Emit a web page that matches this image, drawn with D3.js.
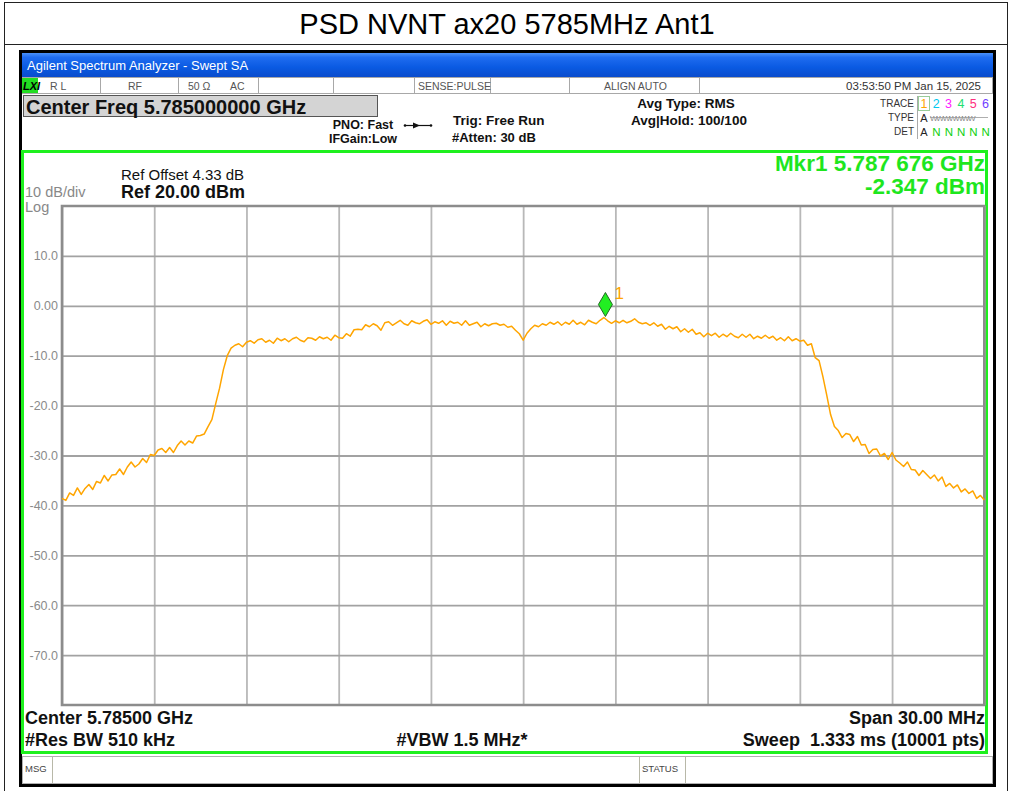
<!DOCTYPE html>
<html>
<head>
<meta charset="utf-8">
<script src="https://cdn.jsdelivr.net/npm/d3@7"></script>
<style>
  body { margin: 0; background: #fff; }
  svg { display: block; }
  text { font-family: "Liberation Sans", Arial, sans-serif; }
</style>
</head>
<body>
<svg id="chart" width="1010" height="791"></svg>
<script>
// ---- sweep settings and measured trace (dBm), evenly spaced sweep points ----
const sweepStartGHz = 5.770;
const sweepStopGHz = 5.800;
const traceLevels = [
  -38.6,-39.0,-37.5,-38.0,-36.5,-37.8,-36.6,-35.8,-36.8,-35.2,
  -35.5,-34.0,-35.1,-33.9,-33.8,-32.7,-33.8,-32.3,-31.3,-32.3,
  -31.7,-30.6,-31.4,-29.8,-30.0,-28.9,-28.6,-29.4,-28.4,-29.4,
  -28.0,-27.1,-27.9,-27.1,-27.5,-26.1,-26.0,-25.7,-24.2,-22.8,
  -19.6,-16.5,-12.8,-10.0,-8.5,-7.9,-7.6,-8.2,-7.3,-7.0,
  -7.5,-6.8,-6.6,-7.3,-6.9,-7.5,-6.5,-7.0,-6.6,-7.2,
  -6.6,-6.3,-6.9,-7.2,-6.4,-6.5,-6.9,-6.2,-6.6,-6.3,
  -6.9,-5.9,-6.4,-6.5,-5.6,-6.1,-4.8,-4.7,-4.8,-3.8,
  -4.2,-3.6,-4.0,-4.9,-3.4,-3.2,-3.9,-3.4,-2.9,-3.6,
  -3.9,-3.0,-3.4,-3.6,-3.1,-2.8,-3.7,-3.2,-3.5,-3.0,
  -3.9,-3.1,-3.5,-3.3,-3.9,-3.0,-3.9,-3.6,-3.3,-4.2,
  -3.6,-4.0,-3.6,-3.5,-3.9,-3.7,-4.3,-4.1,-4.9,-5.6,
  -6.9,-5.5,-4.6,-3.9,-4.2,-3.6,-3.9,-3.3,-3.7,-3.2,
  -3.9,-3.3,-3.7,-2.9,-3.7,-3.3,-3.8,-2.9,-3.3,-3.6,
  -2.9,-2.35,-3.0,-3.5,-3.0,-3.4,-2.9,-3.4,-3.1,-2.6,
  -3.3,-3.6,-3.4,-3.9,-3.4,-4.1,-3.7,-4.7,-4.1,-4.6,
  -4.2,-5.2,-4.6,-5.3,-4.7,-5.7,-5.4,-6.2,-5.5,-6.0,
  -5.5,-6.3,-5.7,-6.2,-5.5,-6.1,-6.4,-5.7,-6.3,-5.7,
  -6.6,-6.1,-6.5,-5.9,-6.5,-6.1,-6.9,-6.4,-7.0,-6.2,
  -7.0,-6.6,-7.1,-6.9,-7.9,-7.6,-10.4,-11.0,-14.2,-17.9,
  -21.8,-24.2,-25.0,-26.4,-25.6,-25.8,-27.2,-26.2,-27.9,-27.8,
  -29.6,-28.8,-28.7,-30.1,-29.6,-30.8,-29.4,-30.9,-31.5,-32.2,
  -31.3,-32.8,-32.9,-34.0,-33.0,-33.8,-34.6,-33.9,-35.1,-34.3,
  -36.2,-35.6,-36.5,-35.9,-37.3,-36.7,-37.6,-37.1,-38.6,-38.0,
  -38.9
];

// ---- axis settings ----
const refLevel = 20;
const bottomLevel = -80;
const yTickValues = [10, 0, -10, -20, -30, -40, -50, -60, -70];
const yTickLabels = ["10.0", "0.00", "-10.0", "-20.0", "-30.0", "-40.0", "-50.0", "-60.0", "-70.0"];
const xDivisions = [5.770, 5.773, 5.776, 5.779, 5.782, 5.785, 5.788, 5.791, 5.794, 5.797, 5.800];

// ---- marker ----
const markerFreqGHz = 5.787676;
const markerLevel = -2.347;

// ---- annotation text ----
const pageTitle = "PSD NVNT ax20 5785MHz Ant1";
const windowTitle = "Agilent Spectrum Analyzer - Swept SA";
const statusCells = [
  { text: "R L", x: 50 }, { text: "RF", x: 128 }, { text: "50 Ω", x: 188 }, { text: "AC", x: 230 },
  { text: "SENSE:PULSE", x: 418 }, { text: "ALIGN AUTO", x: 604 }
];
const statusDividers = [100, 178, 258, 333, 414, 490, 569, 699];
const timeStamp = "03:53:50 PM Jan 15, 2025";
const traceNumbers = ["1", "2", "3", "4", "5", "6"];
const traceColors = ["#ffa500", "#00c8f0", "#ff20ff", "#20e070", "#ff3080", "#7040ff"];

const svg = d3.select("#chart");

// ---- page frame and title ----
svg.append("rect").attr("x", 0).attr("y", 0).attr("width", 1010).attr("height", 791).attr("fill", "#fff");
svg.append("line").attr("x1", 4).attr("x2", 1007).attr("y1", 2.5).attr("y2", 2.5).attr("stroke", "#222").attr("stroke-width", 1);
svg.append("line").attr("x1", 4).attr("x2", 1007).attr("y1", 44.5).attr("y2", 44.5).attr("stroke", "#222").attr("stroke-width", 1);
svg.append("line").attr("x1", 4.5).attr("x2", 4.5).attr("y1", 2).attr("y2", 791).attr("stroke", "#222").attr("stroke-width", 1);
svg.append("line").attr("x1", 1007.5).attr("x2", 1007.5).attr("y1", 2).attr("y2", 791).attr("stroke", "#222").attr("stroke-width", 1);
svg.append("text").attr("x", 507).attr("y", 34).attr("text-anchor", "middle")
  .attr("font-size", 29).attr("fill", "#000").text(pageTitle);

// ---- analyzer window ----
svg.append("rect").attr("x", 19).attr("y", 50).attr("width", 977).attr("height", 737).attr("fill", "#000");
svg.append("rect").attr("x", 22).attr("y", 53).attr("width", 971).attr("height", 731).attr("fill", "#fff");

const defs = svg.append("defs");
const grad = defs.append("linearGradient").attr("id", "titlebar").attr("x1", 0).attr("x2", 0).attr("y1", 0).attr("y2", 1);
grad.append("stop").attr("offset", "0").attr("stop-color", "#4a90f8");
grad.append("stop").attr("offset", "0.18").attr("stop-color", "#1f6cf0");
grad.append("stop").attr("offset", "0.6").attr("stop-color", "#0a5ae2");
grad.append("stop").attr("offset", "1").attr("stop-color", "#0a4ccc");
svg.append("rect").attr("x", 22).attr("y", 53).attr("width", 971).attr("height", 24).attr("fill", "url(#titlebar)");
svg.append("text").attr("x", 27).attr("y", 70).attr("font-size", 13).attr("fill", "#fff").text(windowTitle);

// status row
svg.append("rect").attr("x", 22.5).attr("y", 77.5).attr("width", 970).attr("height", 16)
  .attr("fill", "#fff").attr("stroke", "#a8a8a8").attr("stroke-width", 1);
svg.append("rect").attr("x", 22).attr("y", 78).attr("width", 16).attr("height", 15).attr("fill", "#22dd22");
svg.append("text").attr("x", 23).attr("y", 90).attr("font-size", 11).attr("font-weight", "bold")
  .attr("font-style", "italic").attr("fill", "#000").text("LXI");
statusDividers.forEach(x => {
  svg.append("line").attr("x1", x + 0.5).attr("x2", x + 0.5).attr("y1", 78).attr("y2", 93).attr("stroke", "#a8a8a8");
});
statusCells.forEach(c => {
  svg.append("text").attr("x", c.x).attr("y", 90).attr("font-size", 10.5).attr("fill", "#555").text(c.text);
});
svg.append("text").attr("x", 981).attr("y", 90).attr("text-anchor", "end").attr("font-size", 11.5)
  .attr("fill", "#333").text(timeStamp);

// center frequency box
svg.append("rect").attr("x", 23.5).attr("y", 95.5).attr("width", 354).attr("height", 21)
  .attr("fill", "#d4d4d4").attr("stroke", "#555").attr("stroke-width", 1);
svg.append("text").attr("x", 26).attr("y", 113.5).attr("font-size", 20).attr("font-weight", "bold")
  .attr("fill", "#111").text("Center Freq 5.785000000 GHz");

// settings text
const settings = [
  { t: "PNO: Fast", x: 363, y: 129, a: "middle", s: 12.5 },
  { t: "IFGain:Low", x: 363, y: 143, a: "middle", s: 12.5 },
  { t: "Trig: Free Run", x: 453, y: 125, a: "start", s: 13.5 },
  { t: "#Atten: 30 dB", x: 452, y: 142, a: "start", s: 13 },
  { t: "Avg Type: RMS", x: 686, y: 108, a: "middle", s: 13.5 },
  { t: "Avg|Hold: 100/100", x: 689, y: 125, a: "middle", s: 13.5 }
];
settings.forEach(s => {
  svg.append("text").attr("x", s.x).attr("y", s.y).attr("text-anchor", s.a)
    .attr("font-size", s.s).attr("font-weight", "bold").attr("fill", "#111").text(s.t);
});
// trigger arrow symbol
svg.append("line").attr("x1", 405).attr("x2", 431).attr("y1", 125.5).attr("y2", 125.5).attr("stroke", "#111").attr("stroke-width", 1.2);
svg.append("path").attr("d", "M413,122.5 L420,125.5 L413,128.5 Z").attr("fill", "#111");
svg.append("circle").attr("cx", 405).attr("cy", 125.5).attr("r", 1.3).attr("fill", "#111");
svg.append("circle").attr("cx", 431).attr("cy", 125.5).attr("r", 1.3).attr("fill", "#111");

// trace table
[["TRACE", 107], ["TYPE", 121], ["DET", 135]].forEach(([t, y]) => {
  svg.append("text").attr("x", 914).attr("y", y).attr("text-anchor", "end").attr("font-size", 10)
    .attr("fill", "#333").text(t);
});
svg.append("line").attr("x1", 917.5).attr("x2", 917.5).attr("y1", 96).attr("y2", 139).attr("stroke", "#aaa");
svg.append("rect").attr("x", 918.5).attr("y", 96.5).attr("width", 11).attr("height", 14)
  .attr("fill", "none").attr("stroke", "#9c9").attr("stroke-width", 1);
traceNumbers.forEach((n, i) => {
  svg.append("text").attr("x", 924 + i * 12.3).attr("y", 108).attr("text-anchor", "middle")
    .attr("font-size", 12.5).attr("fill", traceColors[i]).text(n);
});
svg.append("text").attr("x", 924).attr("y", 122).attr("text-anchor", "middle").attr("font-size", 11).attr("fill", "#222").text("A");
svg.append("text").attr("x", 930).attr("y", 121).attr("font-size", 8).attr("letter-spacing", -1.2)
  .attr("fill", "#888").text("WWWWWWW");
svg.append("line").attr("x1", 930).attr("x2", 988).attr("y1", 117.5).attr("y2", 117.5).attr("stroke", "#999").attr("stroke-width", 0.8);
svg.append("text").attr("x", 924).attr("y", 136).attr("text-anchor", "middle").attr("font-size", 11).attr("fill", "#222").text("A");
d3.range(5).forEach(i => {
  svg.append("text").attr("x", 936.5 + i * 12.3).attr("y", 136).attr("text-anchor", "middle")
    .attr("font-size", 11.5).attr("fill", "#10d010").text("N");
});

// ---- green measurement panel ----
svg.append("rect").attr("x", 22.5).attr("y", 151.5).attr("width", 964).attr("height", 601)
  .attr("fill", "#fff").attr("stroke", "#1ef01e").attr("stroke-width", 3);

// ---- scales ----
const plotLeft = 62, plotRight = 984.3, plotTop = 206, plotBottom = 705;
const x = d3.scaleLinear().domain([sweepStartGHz, sweepStopGHz]).range([plotLeft, plotRight]);
const y = d3.scaleLinear().domain([bottomLevel, refLevel]).range([plotBottom, plotTop]);

// vertical divisions
svg.append("g").attr("transform", `translate(0,${plotBottom})`)
  .call(d3.axisBottom(x).tickValues(xDivisions).tickSize(-(plotBottom - plotTop)).tickFormat(""))
  .call(g => g.select(".domain").remove())
  .call(g => g.selectAll("line").attr("stroke", "#b8b8b8").attr("stroke-width", 1.8));

// horizontal divisions + level labels
svg.append("g").attr("transform", `translate(${plotLeft},0)`)
  .call(d3.axisLeft(y).tickValues(yTickValues).tickSize(-(plotRight - plotLeft)).tickPadding(4)
    .tickFormat((d, i) => yTickLabels[i]))
  .call(g => g.select(".domain").remove())
  .call(g => g.selectAll("line").attr("stroke", "#a2a2a2").attr("stroke-width", 1.8))
  .call(g => g.selectAll("text").attr("fill", "#8a8a8a").attr("font-size", 12.5)
    .attr("font-family", "Liberation Sans, Arial, sans-serif"));

// plot border
svg.append("path")
  .attr("d", `M${plotLeft},${plotTop} H${plotRight} V${plotBottom} H${plotLeft} Z`)
  .attr("fill", "none").attr("stroke", "#8c8c8c").attr("stroke-width", 2.6);

// ---- trace ----
const n = traceLevels.length;
const tracePoints = traceLevels.map((v, i) => ({
  f: sweepStartGHz + (sweepStopGHz - sweepStartGHz) * i / (n - 1),
  v: v
}));
svg.append("path").datum(tracePoints)
  .attr("d", d3.line().x(d => x(d.f)).y(d => y(d.v)))
  .attr("fill", "none").attr("stroke", "#ffa500").attr("stroke-width", 1.5).attr("stroke-linejoin", "round");

// ---- marker 1 ----
const mx = x(markerFreqGHz), my = y(markerLevel);
svg.append("path")
  .attr("d", `M${mx},${my - 1} L${mx + 7},${my - 13} L${mx},${my - 25} L${mx - 7},${my - 13} Z`)
  .attr("fill", "#22ee22").attr("stroke", "#226622").attr("stroke-width", 1);
svg.append("text").attr("x", mx + 9).attr("y", my - 19).attr("font-size", 17).attr("fill", "#ffa500").text("1");

// ---- panel annotations ----
svg.append("text").attr("x", 25).attr("y", 197).attr("font-size", 14.5).attr("fill", "#888").text("10 dB/div");
svg.append("text").attr("x", 25).attr("y", 211.5).attr("font-size", 14.5).attr("fill", "#888").text("Log");
svg.append("text").attr("x", 121).attr("y", 180).attr("font-size", 15).attr("fill", "#111").text("Ref Offset 4.33 dB");
svg.append("text").attr("x", 121).attr("y", 198).attr("font-size", 18).attr("font-weight", "bold")
  .attr("fill", "#111").text(`Ref ${refLevel.toFixed(2)} dBm`);
svg.append("text").attr("x", 985).attr("y", 171).attr("text-anchor", "end").attr("font-size", 22.5)
  .attr("font-weight", "bold").attr("fill", "#1ee61e").text("Mkr1 5.787 676 GHz");
svg.append("text").attr("x", 985).attr("y", 194).attr("text-anchor", "end").attr("font-size", 22.5)
  .attr("font-weight", "bold").attr("fill", "#1ee61e").text(`${markerLevel.toFixed(3)} dBm`);

const footer = [
  { t: "Center 5.78500 GHz", x: 25, y: 724, a: "start" },
  { t: "#Res BW 510 kHz", x: 25, y: 746, a: "start" },
  { t: "#VBW 1.5 MHz*", x: 462, y: 746, a: "middle" },
  { t: "Span 30.00 MHz", x: 985, y: 724, a: "end" },
  { t: "Sweep  1.333 ms (10001 pts)", x: 985, y: 746, a: "end" }
];
footer.forEach(s => {
  svg.append("text").attr("x", s.x).attr("y", s.y).attr("text-anchor", s.a).attr("xml:space", "preserve")
    .attr("font-size", 18).attr("font-weight", "bold").attr("fill", "#111").text(s.t);
});

// ---- message / status bar ----
svg.append("rect").attr("x", 22.5).attr("y", 756.5).attr("width", 970).attr("height", 27)
  .attr("fill", "#fff").attr("stroke", "#b0b0b0");
[52, 639, 685].forEach(xp => {
  svg.append("line").attr("x1", xp + 0.5).attr("x2", xp + 0.5).attr("y1", 757).attr("y2", 783).attr("stroke", "#b8b8a8");
});
svg.append("text").attr("x", 25).attr("y", 772).attr("font-size", 9.5).attr("fill", "#444").text("MSG");
svg.append("text").attr("x", 642).attr("y", 772).attr("font-size", 9.5).attr("fill", "#444").text("STATUS");
</script>
</body>
</html>
